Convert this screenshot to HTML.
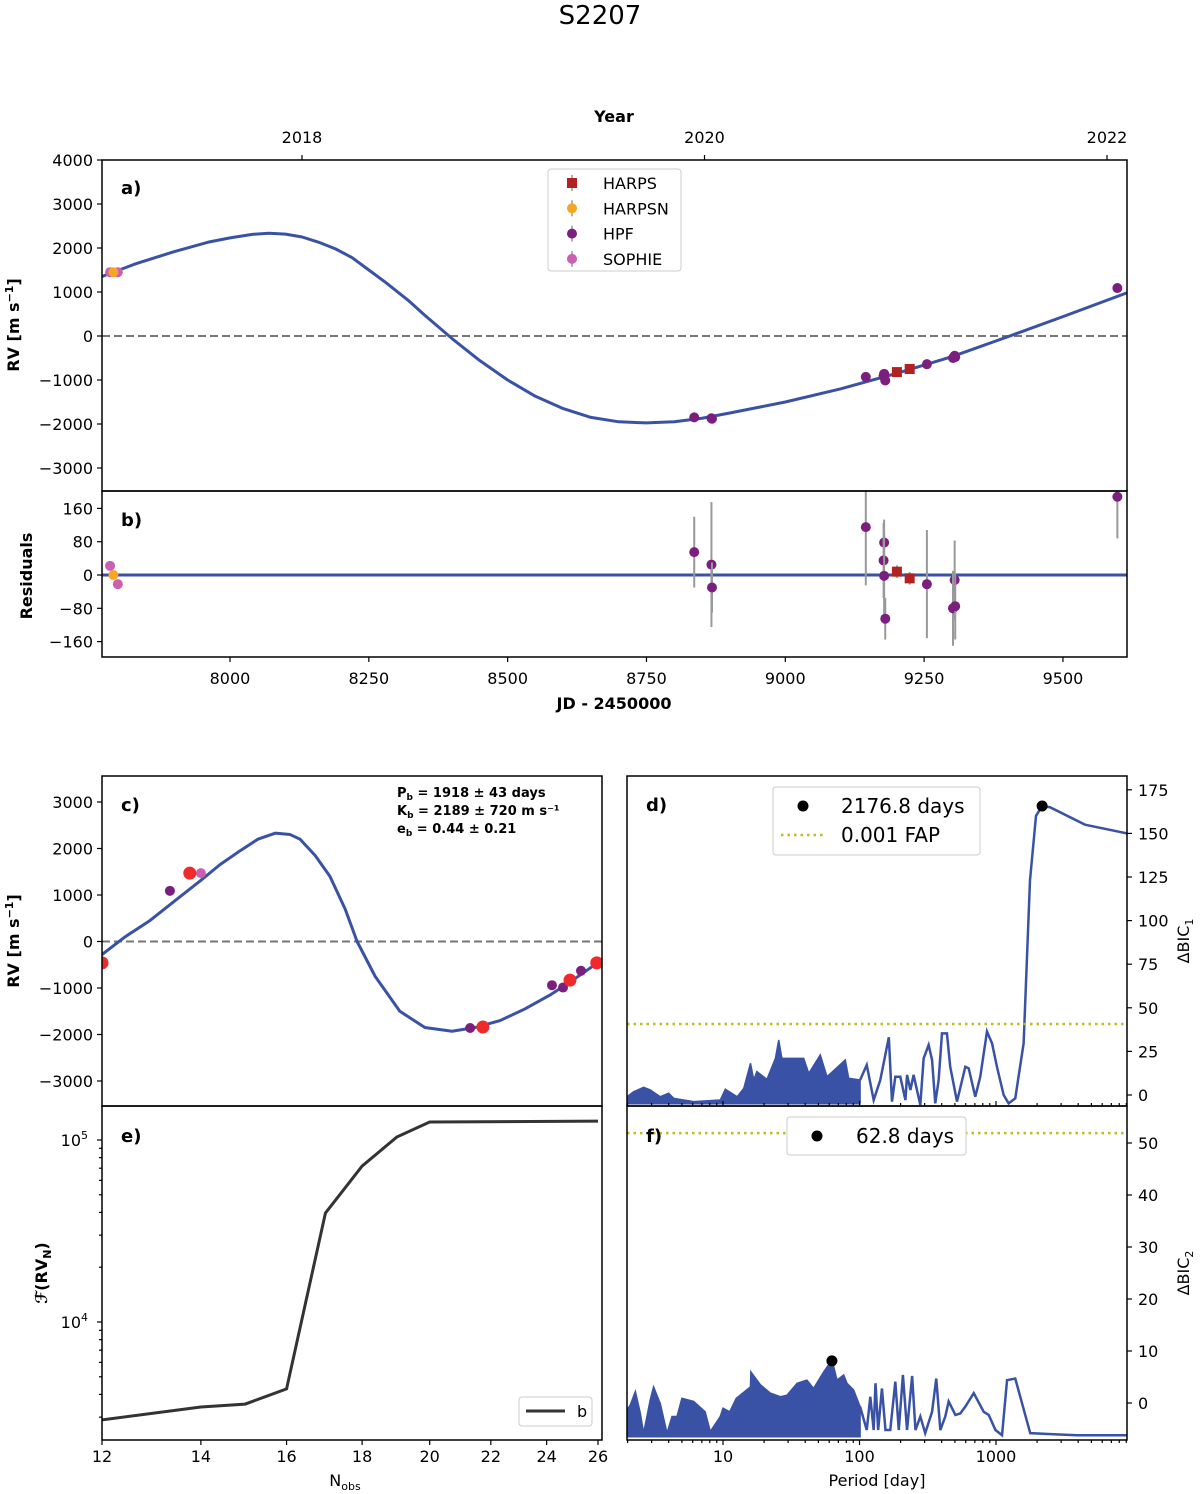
<!DOCTYPE html>
<html><head><meta charset="utf-8"><style>
html,body{margin:0;padding:0;background:#fff;}
svg{display:block;font-family:"DejaVu Sans","Liberation Sans",sans-serif;}
</style></head><body>
<svg id="fig" width="1200" height="1494" viewBox="0 0 1200 1494" xmlns="http://www.w3.org/2000/svg">
<defs>
<clipPath id="clipA"><rect x="102" y="160" width="1025" height="331"/></clipPath>
<clipPath id="clipB"><rect x="102" y="491" width="1025" height="166"/></clipPath>
<clipPath id="clipC"><rect x="102" y="776" width="500" height="330"/></clipPath>
<clipPath id="clipE"><rect x="102" y="1106" width="500" height="334"/></clipPath>
<clipPath id="clipD"><rect x="627" y="776" width="500" height="330"/></clipPath>
<clipPath id="clipF"><rect x="627" y="1106" width="500" height="334"/></clipPath>
</defs>
<text x="600" y="24" font-size="26" text-anchor="middle">S2207</text>
</svg>
<script>
// ---------- data ----------
const curveJD=[7769,7830,7900,7960,8000,8040,8070,8100,8130,8160,8190,8220,8250,8280,8320,8350,8400,8450,8500,8550,8600,8650,8700,8750,8800,8850,8900,9000,9100,9200,9300,9400,9500,9615];
const curveRV=[1350,1640,1920,2130,2230,2310,2335,2315,2250,2130,1980,1780,1500,1220,820,480,-60,-560,-1000,-1370,-1650,-1850,-1950,-1975,-1950,-1870,-1750,-1500,-1200,-850,-470,-20,440,980];
const harpsJD=[9201,9224]; const harpsRV=[-820,-750]; const harpsRes=[8,-8]; const harpsErr=[15,15];
const harpsnJD=[7790]; const harpsnRV=[1450]; const harpsnRes=[0]; const harpsnErr=[10];
const hpfJD=[8836,8867,8868,9145,9178,9177,9178,9180,9255,9305,9302,9306,9598];
const hpfRV=[-1850,-1870,-1880,-930,-860,-900,-930,-1010,-640,-450,-500,-480,1090];
const hpfRes=[55,25,-30,115,78,35,-2,-105,-22,-12,-80,-75,188];
const hpfErr=[85,150,60,140,55,90,100,50,130,95,90,80,100];
const sophieJD=[7784,7798]; const sophieRV=[1450,1450]; const sophieRes=[22,-22]; const sophieErr=[10,10];
const yearTicks=[2018,2020,2022];
const jdTicks=[8000,8250,8500,8750,9000,9250,9500];
const rvTicksA=[-3000,-2000,-1000,0,1000,2000,3000,4000];
const resTicks=[-160,-80,0,80,160];
// panel c (phased, on Nobs log axis)
const phaseX=[12,12.44,12.93,13.45,13.98,14.42,14.88,15.30,15.72,16.09,16.34,16.73,17.12,17.53,17.86,18.37,19.09,19.85,20.71,21.46,22.32,23.20,24.13,25.08,26.2];
const phaseRV=[-280,100,450,880,1300,1650,1950,2200,2330,2300,2200,1850,1400,700,0,-750,-1500,-1850,-1930,-1850,-1700,-1450,-1150,-800,-380];
const cRedX=[12,13.76,21.73,24.89,25.95]; const cRedRV=[-460,1470,-1840,-830,-460];
const cHpfX=[13.34,21.3,24.2,24.62,25.32]; const cHpfRV=[1090,-1860,-940,-990,-630];
const cSophX=[14.0]; const cSophRV=[1470];
const rvTicksC=[-3000,-2000,-1000,0,1000,2000,3000];
// panel e
const nobs=[12,14,15,16,17,18,19,20,26];
const fRV=[2900,3410,3540,4290,39700,71900,103800,125600,126900];
const nTicks=[12,14,16,18,20,22,24,26];
// panel d periodogram
const dDenseP=[1.98,2.22,2.62,2.93,3.47,4.0,4.35,6.1,9.55,10.4,12.7,14.2,15.9,16.8,17.7,21,24.2,25.6,27,31.1,39,42.5,51.6,57.8,78.7,83.3,101];
const dDenseV=[-1,1.9,4.4,2.9,-1,1,-1.9,-3.8,-2.9,3.3,-1,3.8,18.2,8.6,13.4,9,21,31.5,21,21,21,12.4,23,10.5,20.1,9.6,8.6];
const dLineP=[101,113,127,142,164,173,183,199,217,223,236,249,279,295,321,340,359,380,402,437,462,518,596,631,705,767,859,935,1016,1138,1238,1384,1594,1774,1963,2177,2487,4487,9120];
const dLineV=[8.6,17.2,-2.9,8.6,33.1,-3.8,10.5,10.5,-2.9,11.5,2.9,11.5,-5.7,21,28.7,20.1,-4.8,8.6,35.3,35.3,16.2,-3.8,16.2,15.3,-1,10.5,36.4,29.7,16.2,0,-4.8,-1.9,29.7,123,160,165.7,165,155,150];
const dPeakP=[2176.8]; const dPeakV=[165.7]; const dFAP=[40.7];
const dTicks=[0,25,50,75,100,125,150,175];
// panel f periodogram
const fDenseP=[1.98,2.09,2.28,2.48,2.62,2.93,3.1,3.47,3.89,4.23,4.6,5.0,6.1,7.4,8.07,9.55,10,11.2,12.5,15.9,16,18.8,22.2,26.3,29.4,34.9,41.2,46.1,54.7,62.9,68.4,76.6,81,90.6,101];
const fDenseV=[-1.35,-0.4,2.2,-2,-5.8,0.6,3.1,-0.1,-5.8,-2.6,-2.6,0.9,0.3,-1.7,-5.5,-2.6,-1,-1.7,0.9,3.1,6.0,3.5,1.9,1.2,1.5,3.8,4.4,2.8,6.0,8.3,4.4,5.4,3.8,2.5,-0.7];
const fLineP=[101,113,120,127,131,137,146,155,168,183,194,208,223,243,257,279,303,340,365,391,425,450,504,548,596,687,813,885,991,1107,1205,1384,1782,2643,3917,5196,9120];
const fLineV=[-0.7,-5.2,1.2,-5.2,3.8,-5.2,2.8,-5.2,-5.2,4.1,-5.2,5.4,-5.2,5.2,-5.2,-2.6,-5.8,-1.7,4.7,-5.2,-2.6,0.3,-2.3,-2,-0.7,1.9,-1.7,-2.3,-5.2,-6.2,4.4,4.7,-5.8,-6,-6.2,-6.2,-6.2];
const fPeakP=[62.8]; const fPeakV=[8.1]; const fFAP=[51.9];
const fTicks=[0,10,20,30,40,50];
const perTicks=[10,100,1000];

// ---------- scales ----------
const ax=jd=>102+(jd-7769.5)*0.5553;
const yearX=y=>302+(y-2018)*201.25;
const ay=v=>336-v*0.044;
const by=r=>575-r*33.3/80;
const cx=n=>102+(Math.log10(n)-Math.log10(12))/Math.log10(26/12)*496;
const cy=v=>941.5-v*0.0465;
const ey=v=>1322-(Math.log10(v)-4)*182;
const px=p=>723+(Math.log10(p)-1)*136.5;
const dy=v=>1095-v*1.744;
const fy=v=>1403-v*5.2;

const NS="http://www.w3.org/2000/svg";
const svg=document.getElementById('fig');
function mk(tag,attrs,parent){const e=document.createElementNS(NS,tag);for(const k in attrs)e.setAttribute(k,attrs[k]);(parent||svg).appendChild(e);return e;}
function txt(s,x,y,size,anchor,extra){const t=mk('text',Object.assign({x:x,y:y,'font-size':size,'text-anchor':anchor||'middle'},extra||{}));t.textContent=s;return t;}
const fmt=v=>v<0?'\u2212'+Math.abs(v):String(v);
const BLUE='#3a52a5';

const frames=[[102,160,1025,331,'panel-a-frame'],[102,491,1025,166,'panel-b-frame'],[102,776,500,330,'panel-c-frame'],[102,1106,500,334,'panel-e-frame'],[627,776,500,330,'panel-d-frame'],[627,1106,500,334,'panel-f-frame']];

// ---------- panel a ----------
const gA=mk('g',{'clip-path':'url(#clipA)'});


const zA=mk('line',{x1:102,x2:1127,y1:ay(0),y2:ay(0),stroke:'#777',"stroke-width":2,'stroke-dasharray':'8,4'},gA);


const cA=mk('polyline',{points:curveJD.map((j,i)=>ax(j)+','+ay(curveRV[i])).join(' '),fill:'none',stroke:BLUE,'stroke-width':3,'stroke-linejoin':'round'},gA);


function pts(g,X,Y,fx,fy2,color,shape,name,errs){
  X.forEach((x,i)=>{
    const xx=fx(x),yy=fy2(Y[i]);
    if(errs){const ee=mk('line',{x1:xx,x2:xx,y1:fy2(Y[i]-errs[i]),y2:fy2(Y[i]+errs[i]),stroke:'#999','stroke-width':2},g);
      
      }
    let m;
    if(shape==='sq')m=mk('rect',{x:xx-5,y:yy-5,width:10,height:10,fill:color},g);
    else m=mk('circle',{cx:xx,cy:yy,r:5,fill:color},g);
    
    
  });
}
const C_HARPS='#b22222',C_HN='#f5a623',C_HPF='#7b1f7e',C_SOPH='#cc5fb0';
pts(gA,sophieJD,sophieRV,ax,ay,C_SOPH,'c','sophie-point');
pts(gA,harpsnJD,harpsnRV,ax,ay,C_HN,'c','harpsn-point');
pts(gA,hpfJD,hpfRV,ax,ay,C_HPF,'c','hpf-point');
pts(gA,harpsJD,harpsRV,ax,ay,C_HARPS,'sq','harps-point');

// ---------- panel b ----------
const gB=mk('g',{'clip-path':'url(#clipB)'});


const zB=mk('line',{x1:102,x2:1127,y1:by(0),y2:by(0),stroke:BLUE,'stroke-width':3},gB);


pts(gB,sophieJD,sophieRes,ax,by,C_SOPH,'c','sophie-residual',sophieErr);
pts(gB,harpsnJD,harpsnRes,ax,by,C_HN,'c','harpsn-residual',harpsnErr);
pts(gB,hpfJD,hpfRes,ax,by,C_HPF,'c','hpf-residual',hpfErr);
pts(gB,harpsJD,harpsRes,ax,by,C_HARPS,'sq','harps-residual',harpsErr);

// ---------- panel c ----------
const gC=mk('g',{'clip-path':'url(#clipC)'});


const zC=mk('line',{x1:102,x2:602,y1:cy(0),y2:cy(0),stroke:'#777','stroke-width':2,'stroke-dasharray':'8,4'},gC);


const cC=mk('polyline',{points:phaseX.map((x,i)=>cx(x)+','+cy(phaseRV[i])).join(' '),fill:'none',stroke:BLUE,'stroke-width':3,'stroke-linejoin':'round'},gC);


pts(gC,cHpfX,cHpfRV,cx,cy,C_HPF,'c','hpf-phased-point');
pts(gC,cSophX,cSophRV,cx,cy,C_SOPH,'c','sophie-phased-point');
cRedX.forEach((x,i)=>{const m=mk('circle',{cx:cx(x),cy:cy(cRedRV[i]),r:6.5,fill:'#ee2a2a'},gC);
  
  });
[['P','b',' = 1918 \u00b1 43 days',797],['K','b',' = 2189 \u00b1 720 m s\u207b\u00b9',815],['e','b',' = 0.44 \u00b1 0.21',833]].forEach(r=>{
  const t=mk('text',{x:397,y:r[3],'font-size':13,'font-weight':'bold'});
  
  
  t.appendChild(document.createTextNode(r[0]));
  const s=mk('tspan',{'font-size':9,dy:3},t);s.textContent=r[1];
  const s2=mk('tspan',{dy:-3},t);s2.textContent=r[2];
});

// ---------- panel e ----------
const gE=mk('g',{'clip-path':'url(#clipE)'});


const lE=mk('polyline',{points:nobs.map((n,i)=>cx(n)+','+ey(fRV[i])).join(' '),fill:'none',stroke:'#333','stroke-width':3},gE);



// ---------- panel d ----------
const gD=mk('g',{'clip-path':'url(#clipD)'});


const denseD=mk('polygon',{points:dDenseP.map((p,i)=>px(p)+','+dy(dDenseV[i])).join(' ')+' '+px(101)+','+dy(-5)+' '+px(1.98)+','+dy(-5),fill:BLUE,stroke:BLUE,'stroke-width':1.5},gD);


const lineD=mk('polyline',{points:dLineP.map((p,i)=>px(p)+','+dy(dLineV[i])).join(' '),fill:'none',stroke:BLUE,'stroke-width':2.5},gD);


const fapD=mk('line',{x1:627,x2:1127,y1:dy(dFAP[0]),y2:dy(dFAP[0]),stroke:'#bcbd22','stroke-width':2.5,'stroke-dasharray':'2.5,4'},gD);


const pkD=mk('circle',{cx:px(dPeakP[0]),cy:dy(dPeakV[0]),r:5.5,fill:'#000'},gD);



// ---------- panel f ----------
const gF=mk('g',{'clip-path':'url(#clipF)'});


const denseF=mk('polygon',{points:fDenseP.map((p,i)=>px(p)+','+fy(fDenseV[i])).join(' ')+' '+px(101)+','+fy(-6.5)+' '+px(1.98)+','+fy(-6.5),fill:BLUE,stroke:BLUE,'stroke-width':1.5},gF);


const lineF=mk('polyline',{points:fLineP.map((p,i)=>px(p)+','+fy(fLineV[i])).join(' '),fill:'none',stroke:BLUE,'stroke-width':2.5},gF);


const fapF=mk('line',{x1:627,x2:1127,y1:fy(fFAP[0]),y2:fy(fFAP[0]),stroke:'#bcbd22','stroke-width':2.5,'stroke-dasharray':'2.5,4'},gF);


const pkF=mk('circle',{cx:px(fPeakP[0]),cy:fy(fPeakV[0]),r:5.5,fill:'#000'},gF);



frames.forEach(f=>{const r=mk('rect',{x:f[0],y:f[1],width:f[2],height:f[3],fill:'none',stroke:'#000','stroke-width':1.5});
  
  });

// ---------- ticks ----------
function tick(x1,y1,x2,y2){const l=mk('line',{x1:x1,y1:y1,x2:x2,y2:y2,stroke:'#000','stroke-width':1.2});
  
  }
function lab(s,x,y,anchor,name){const t=txt(s,x,y,16,anchor);
  
  return t;}
rvTicksA.forEach(v=>{tick(97,ay(v),102,ay(v));lab(fmt(v),93,ay(v)+6,'end','y-tick-label-a');});
resTicks.forEach(v=>{tick(97,by(v),102,by(v));lab(fmt(v),93,by(v)+6,'end','y-tick-label-b');});
jdTicks.forEach(v=>{tick(ax(v),657,ax(v),662);lab(String(v),ax(v),684,'middle','x-tick-label-jd');});
yearTicks.forEach(v=>{tick(yearX(v),155,yearX(v),160);lab(String(v),yearX(v),143,'middle','x-tick-label-year');});
rvTicksC.forEach(v=>{tick(97,cy(v),102,cy(v));lab(fmt(v),93,cy(v)+6,'end','y-tick-label-c');});
nTicks.forEach(v=>{tick(cx(v),1440,cx(v),1445);lab(String(v),cx(v),1462,'middle','x-tick-label-nobs');});
[3000,4000,5000,6000,7000,8000,9000,20000,30000,40000,50000,60000,70000,80000,90000].forEach(v=>tick(99,ey(v),102,ey(v)));
[[10000,'4'],[100000,'5']].forEach(a=>{tick(97,ey(a[0]),102,ey(a[0]));
  const t=lab('10',88,ey(a[0])+6,'end','y-tick-label-e');const s=mk('tspan',{'font-size':11,dy:-7},t);s.textContent=a[1];});
dTicks.forEach(v=>{tick(1127,dy(v),1132,dy(v));lab(String(v),1138,dy(v)+6,'start','y-tick-label-d');});
fTicks.forEach(v=>{tick(1127,fy(v),1132,fy(v));lab(String(v),1138,fy(v)+6,'start','y-tick-label-f');});
const minor=[];for(let d=1;d<=1000;d*=10)for(let k=2;k<=9;k++)if(d*k>=2&&d*k<=9100)minor.push(d*k);
minor.forEach(p=>{tick(px(p),1440,px(p),1443);tick(px(p),1106,px(p),1103);});
perTicks.forEach(p=>{tick(px(p),1440,px(p),1445);tick(px(p),1106,px(p),1101);lab(String(p),px(p),1462,'middle','x-tick-label-period');});

// ---------- axis labels ----------
function rot(s,x,y,bold,name,sub,sup){const t=mk('text',{x:x,y:y,'font-size':16,'text-anchor':'middle',transform:'rotate(-90 '+x+' '+y+')','font-weight':bold?'bold':'normal'});
  
  
  t.appendChild(document.createTextNode(s));
  if(sup){const a=mk('tspan',{'font-size':11,dy:-6},t);a.textContent=sup;const b=mk('tspan',{dy:6},t);b.textContent=']';}
  if(sub){const a=mk('tspan',{'font-size':11,dy:4},t);a.textContent=sub;const b=mk('tspan',{dy:-4},t);b.textContent=sub==='N'?')':'';}
  return t;}
rot('RV [m s',19,325,true,'y-axis-title-a',null,'\u22121');
rot('Residuals',32,576,true,'y-axis-title-b');
rot('RV [m s',19,941,true,'y-axis-title-c',null,'\u22121');
rot('\u2131(RV',47,1273,true,'y-axis-title-e','N');
rot('\u0394BIC',1189,941,false,'y-axis-title-d','1');
rot('\u0394BIC',1189,1273,false,'y-axis-title-f','2');
const jdT=txt('JD - 2450000',614,709,16,'middle',{'font-weight':'bold'});


const yrT=txt('Year',614,122,16,'middle',{'font-weight':'bold'});


const nT=txt('N',345,1486,16,'middle');


const nS=mk('tspan',{'font-size':11,dy:4},nT);nS.textContent='obs';
const pT=txt('Period [day]',877,1486,16,'middle');


[['a)',121,194],['b)',121,526],['c)',121,811],['d)',646,811],['e)',121,1142],['f)',646,1142]].forEach(p=>{
  const t=txt(p[0],p[1],p[2],18,'start',{'font-weight':'bold'});
  
  });

// ---------- legends ----------
const lgA=mk('g',{});


mk('rect',{x:548,y:169,width:133,height:102,rx:3,fill:'#fff',stroke:'#ccc'},lgA);
[['HARPS',C_HARPS,'sq'],['HARPSN',C_HN,'c'],['HPF',C_HPF,'c'],['SOPHIE',C_SOPH,'c']].forEach((e,i)=>{
  const y=183+i*25.3;
  const g=mk('g',{},lgA);
  
  
  mk('line',{x1:572,x2:572,y1:y-8,y2:y+8,stroke:'#999','stroke-width':1.5},g);
  if(e[2]==='sq')mk('rect',{x:567,y:y-5,width:10,height:10,fill:e[1]},g);else mk('circle',{cx:572,cy:y,r:5,fill:e[1]},g);
  const t=txt(e[0],603,y+6,16,'start');g.appendChild(t);
});
const lgD=mk('g',{});


mk('rect',{x:773,y:787,width:207,height:68,rx:3,fill:'#fff',stroke:'#ccc'},lgD);
mk('circle',{cx:803,cy:806,r:5.5,fill:'#000'},lgD);
lgD.appendChild(txt('2176.8 days',841,813,20,'start'));
mk('line',{x1:781,x2:826,y1:835,y2:835,stroke:'#bcbd22','stroke-width':2.5,'stroke-dasharray':'2.5,4'},lgD);
lgD.appendChild(txt('0.001 FAP',841,842,20,'start'));
const lgF=mk('g',{});


mk('rect',{x:787,y:1117,width:179,height:38,rx:3,fill:'#fff',stroke:'#ccc'},lgF);
mk('circle',{cx:817,cy:1136,r:5.5,fill:'#000'},lgF);
lgF.appendChild(txt('62.8 days',856,1143,20,'start'));
const lgE=mk('g',{});


mk('rect',{x:519,y:1397,width:73,height:29,rx:3,fill:'#fff',stroke:'#ccc'},lgE);
mk('line',{x1:526,x2:565,y1:1411,y2:1411,stroke:'#333','stroke-width':3},lgE);
lgE.appendChild(txt('b',577,1417,16,'start'));
</script>
</body></html>
